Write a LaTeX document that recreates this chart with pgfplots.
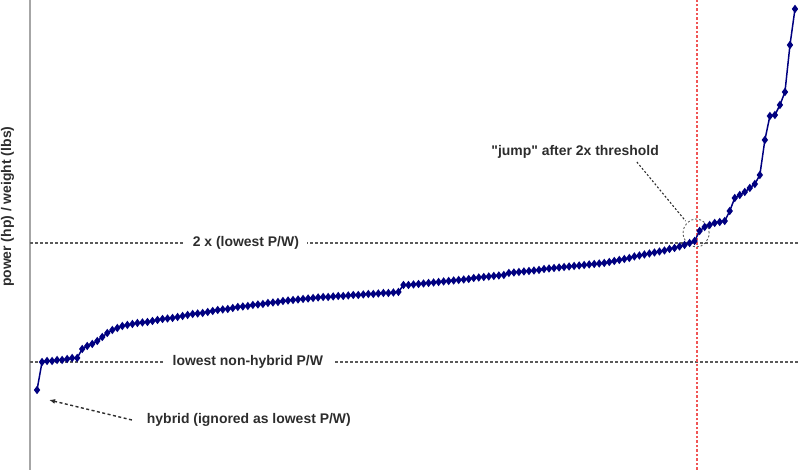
\documentclass[border=0pt]{standalone}
\usepackage{pgfplots}
\pgfplotsset{compat=1.18}
\usepackage{pgfplotstable}
\usepackage{fontspec}
\setmainfont{Liberation Sans}[Ligatures=TeXOff]
\usetikzlibrary{arrows.meta}

\definecolor{seriesblue}{RGB}{0,0,128}
\definecolor{guide}{RGB}{90,90,90}
\definecolor{annot}{RGB}{45,45,45}
\definecolor{threshred}{RGB}{240,85,85}

% power-to-weight ratios of all models, sorted ascending
% (units chosen so that the lowest non-hybrid value is 119)
\pgfplotstableread{
h
91
119
120
120
121
121
122
123
123
132
135
137
140
144
148
151
153
155
156
157
158
158.5
159
160
161
162
162.5
163
164
165
166
167
167.5
168
169
170
171
171.5
172
173
174
174.5
175
176
176.5
177
178
178.5
179
180
180.5
181
181.5
182
182.5
183
183.5
184
184
184.5
185
185
185.5
186
186
186.5
187
187
187.5
188
188
188.5
189
196
196
196.5
197
197.5
198
198.5
199
199.5
200
200.5
201
201.5
202
203
203.5
204
204.5
205
205.5
206
208
208.5
209
209.5
210
210.5
211
212
212.5
213
213.5
214
214.5
215
215.5
216
216.5
217
217.5
218
219
220
221
222
223
224.5
225.5
226.5
227.5
228.5
229.5
230.5
232
233
234.5
236
238
240
250
254
256
258
259
260
270
283
286
289
293
297
306
341
365
366
376
389
436
472
}\pwtable

\begin{document}
\begin{tikzpicture}
\begin{axis}[
  scale only axis,
  width=768bp, height=470bp,
  xmin=-1.4, xmax=151.6,
  ymin=11, ymax=481,
  axis x line=none,
  axis y line*=left,
  y axis line style={draw=black!35, line width=1.6bp, -},
  xtick=\empty, ytick=\empty,
  ylabel={power (hp) / weight (lbs)},
  ylabel style={at={(axis description cs:-0.016,0.56)}, anchor=south,
                font=\fontsize{14}{16}\selectfont\bfseries, text=annot},
  clip=false,
]
% reference levels
\addplot[guide, line width=1.3bp, dash pattern=on 3bp off 2bp]
  coordinates {(-1.4,238) (151.6,238)};
\addplot[guide, line width=1.3bp, dash pattern=on 3bp off 2bp]
  coordinates {(-1.4,119) (151.6,119)};
% threshold position
\addplot[color=threshred, line width=1.3bp, dash pattern=on 2.5bp off 2bp]
  coordinates {(131.5,11) (131.5,481)};

\node[fill=white, inner xsep=8bp, inner ysep=2bp, text=annot,
      font=\fontsize{14}{16}\selectfont\bfseries]
  at (axis cs:41.6,238) {2 x (lowest P/W)};
\node[fill=white, inner xsep=10bp, inner ysep=2bp, text=annot,
      font=\fontsize{14}{16}\selectfont\bfseries]
  at (axis cs:42,119) {lowest non-hybrid P/W};
\node[text=annot, font=\fontsize{14}{16}\selectfont\bfseries]
  at (axis cs:42.2,61) {hybrid (ignored as lowest P/W)};
\node[text=annot, font=\fontsize{14}{16}\selectfont\bfseries]
  at (axis cs:107.2,329) {"jump" after 2x threshold};

% annotation pointers
\draw[annot, line width=1.4bp, dash pattern=on 3bp off 2.5bp,
      -{Latex[length=6bp,width=5bp]}]
  (axis cs:18.9,61) -- (axis cs:2.4,81);
\draw[annot, line width=1.1bp, dash pattern=on 2bp off 2bp]
  (axis cs:119.5,319) -- (axis cs:129.2,260);
\draw[guide, line width=0.9bp, dash pattern=on 2bp off 2bp]
  (axis cs:131.3,248) ellipse [x radius=13bp, y radius=14bp];

% sorted power-to-weight series
\addplot[seriesblue, line width=1.5bp, mark=diamond*, mark size=3bp,
         mark options={solid, fill=seriesblue}]
  table[x expr=\coordindex, y=h] {\pwtable};

\coordinate (bl) at (rel axis cs:0,0);
\coordinate (tr) at (rel axis cs:1,1);
\end{axis}
\pgfresetboundingbox
\path ([xshift=-30bp]bl) rectangle (tr);
\end{tikzpicture}
\end{document}
